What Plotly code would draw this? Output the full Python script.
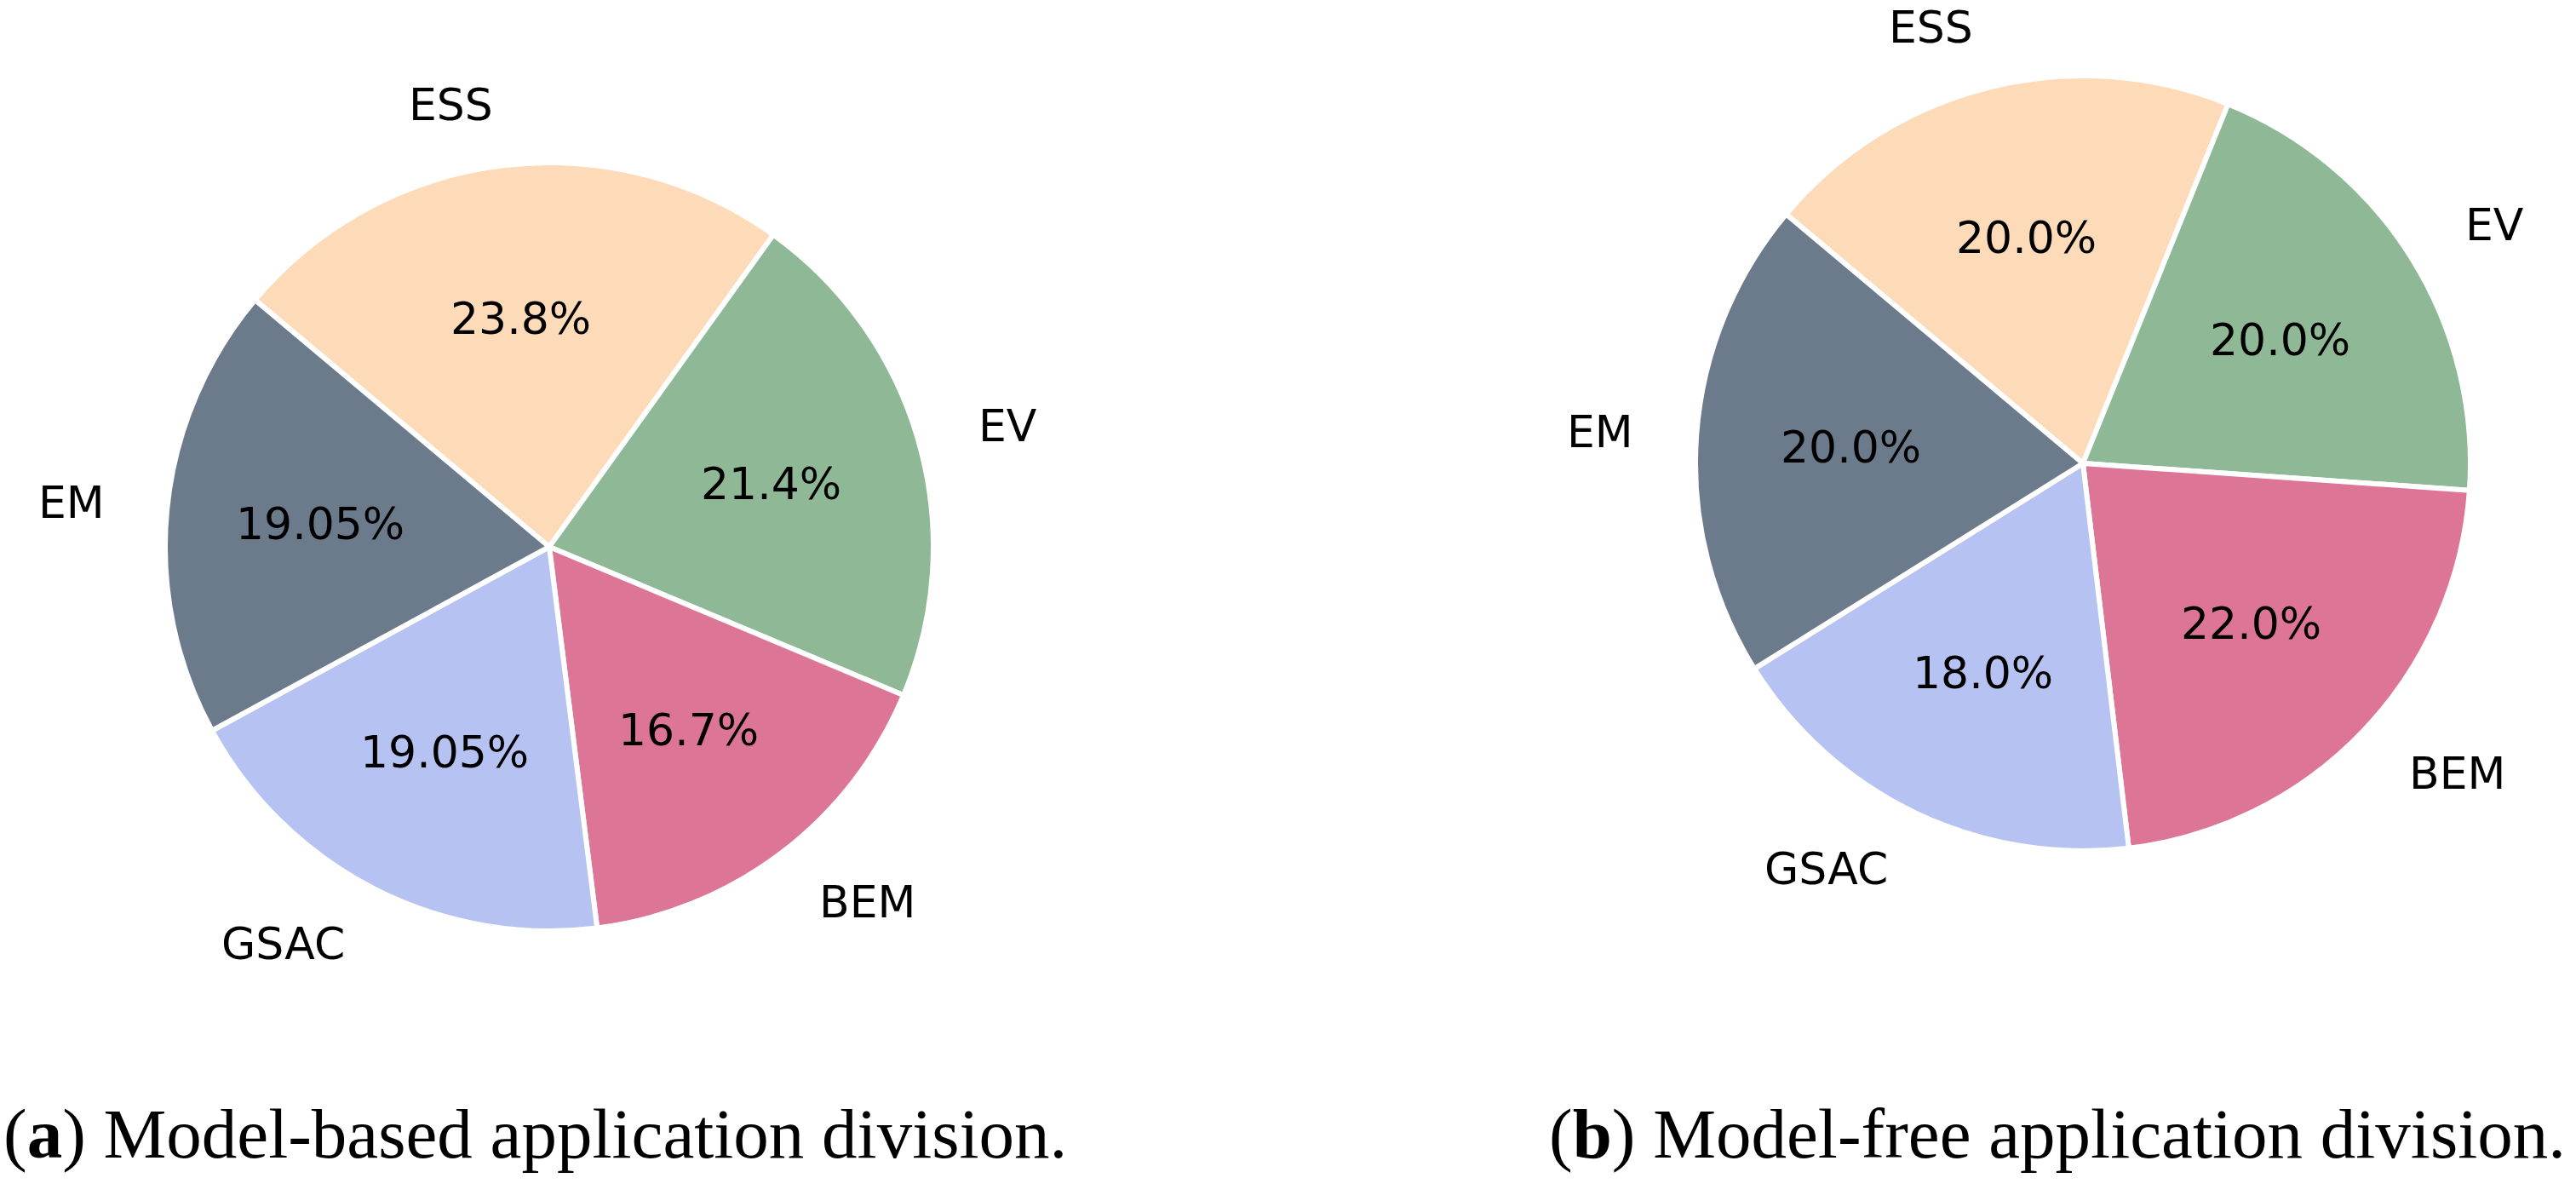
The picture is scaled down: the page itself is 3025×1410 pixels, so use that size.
import math
import plotly.graph_objects as go

# ---------------- data ----------------
labels = ["ESS", "EV", "BEM", "GSAC", "EM"]
values_a = [23.8, 21.4, 16.7, 19.05, 19.05]
pct_text_a = ["23.8%", "21.4%", "16.7%", "19.05%", "19.05%"]
values_b = [20.0, 20.0, 22.0, 18.0, 20.0]
pct_text_b = ["20.0%", "20.0%", "22.0%", "18.0%", "20.0%"]
caption_a = "(<b>a</b>) Model-based application division."
caption_b = "(<b>b</b>) Model-free application division."

# ---------------- style / layout ----------------
colors = ["#FDDAB8", "#8FB896", "#DD7596", "#B6C3F2", "#6C7B8B"]
W, H = 3025, 1410
START_ANGLE = 140.0          # first wedge starts here (math degrees), wedges go clockwise
LABEL_DIST = 1.16
PCT_DIST = 0.6
SANS = "DejaVu Sans"
SERIF = "Liberation Serif"
FS = 52

panels = [
    dict(values=values_a, texts=pct_text_a, cx=645, cy=642, r=451,
         caption=caption_a, cap_x=2, cap_anchor="left"),
    dict(values=values_b, texts=pct_text_b, cx=2446, cy=544, r=455,
         caption=caption_b, cap_x=3015, cap_anchor="right"),
]
CAP_Y = 1331
CAP_FS = 83

fig = go.Figure()
annotations = []
for p in panels:
    cx, cy, r = p["cx"], p["cy"], p["r"]
    fig.add_trace(go.Pie(
        labels=labels, values=p["values"], sort=False, direction="clockwise",
        rotation=90 - START_ANGLE,
        marker=dict(colors=colors, line=dict(color="white", width=6)),
        textinfo="none", hoverinfo="none", showlegend=False,
        domain=dict(x=[(cx - r) / W, (cx + r) / W],
                    y=[(H - cy - r) / H, (H - cy + r) / H]),
    ))
    total = sum(p["values"])
    theta = START_ANGLE
    for lab, v, t in zip(labels, p["values"], p["texts"]):
        span = 360.0 * v / total
        mid = math.radians(theta - span / 2)
        theta -= span
        c, s = math.cos(mid), math.sin(mid)
        # outer label
        lx = cx + LABEL_DIST * r * c
        ly = cy - LABEL_DIST * r * s
        annotations.append(dict(
            x=lx / W, y=1 - ly / H, xref="paper", yref="paper", text=lab,
            showarrow=False, xanchor="left" if c > 0 else "right", yanchor="middle",
            borderpad=0,
            font=dict(family=SANS, size=FS, color="black")))
        # percentage label
        px = cx + PCT_DIST * r * c
        py = cy - PCT_DIST * r * s
        annotations.append(dict(
            x=px / W, y=1 - py / H, xref="paper", yref="paper", text=t,
            showarrow=False, xanchor="center", yanchor="middle",
            font=dict(family=SANS, size=FS, color="black")))
    annotations.append(dict(
        x=p["cap_x"] / W, y=1 - CAP_Y / H, xref="paper", yref="paper",
        text=p["caption"], showarrow=False, xanchor=p["cap_anchor"], yanchor="middle",
        font=dict(family=SERIF, size=CAP_FS, color="black")))

fig.update_layout(
    width=W, height=H, margin=dict(l=0, r=0, t=0, b=0),
    paper_bgcolor="white", plot_bgcolor="white",
    annotations=annotations,
)

fig.write_html("out.html", config={"displayModeBar": False},
               post_script="document.body.style.margin='0';")
